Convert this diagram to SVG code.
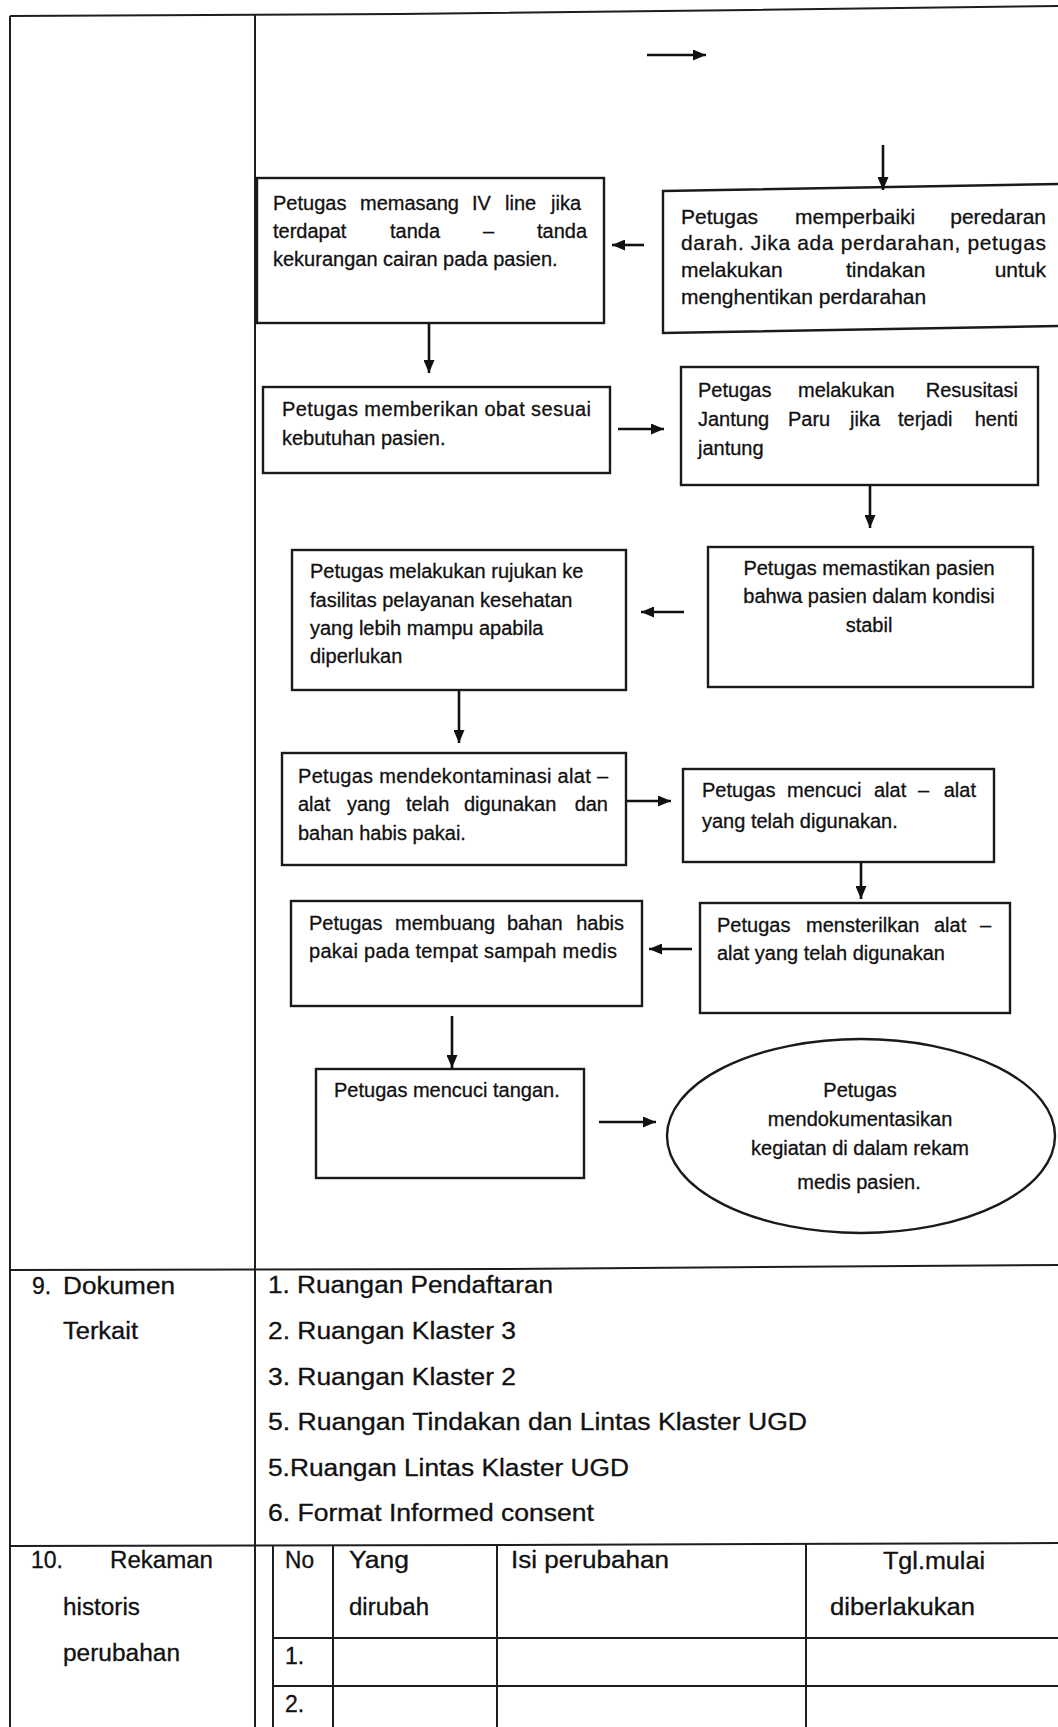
<svg xmlns="http://www.w3.org/2000/svg" width="1058" height="1727" viewBox="0 0 1058 1727">
<defs>
<marker id="ah" markerUnits="userSpaceOnUse" markerWidth="13" markerHeight="11" refX="13" refY="5.5" orient="auto">
<path d="M0,0 L13,5.5 L0,11 z" fill="#111"/>
</marker>
<style>
.frame{fill:none;stroke:#1e1e1e;stroke-width:2}
.box{fill:#fff;stroke:#1a1a1a;stroke-width:2.4}
.conn line{stroke:#111;stroke-width:2.6;marker-end:url(#ah)}
.t{font-family:"Liberation Sans",Arial,sans-serif;font-size:20px;fill:#111;stroke:#111;stroke-width:0.3}
.t21{font-size:21px}
.m{text-anchor:middle}
.e{text-anchor:end}
.tb{font-family:"Liberation Sans",Arial,sans-serif;font-size:23px;fill:#111;stroke:#111;stroke-width:0.3}
</style>
</defs>
<rect width="1058" height="1727" fill="#fff"/>

<g id="frame">
<polyline class="frame" points="10,16 400,14 750,10 1058,6"/>
<line class="frame" x1="10" y1="16" x2="10" y2="1727"/>
<line class="frame" x1="255" y1="15" x2="255" y2="1727"/>
<polyline class="frame" points="10,1270 500,1269 1058,1265"/>
<polyline class="frame" points="10,1546 500,1545 1058,1543"/>
<line class="frame" x1="273" y1="1545" x2="273" y2="1727"/>
<line class="frame" x1="333" y1="1545" x2="333" y2="1727"/>
<line class="frame" x1="497" y1="1545" x2="497" y2="1727"/>
<line class="frame" x1="806" y1="1544" x2="806" y2="1727"/>
<line class="frame" x1="273" y1="1638" x2="1058" y2="1638"/>
<line class="frame" x1="273" y1="1686" x2="1058" y2="1686"/>
</g>

<g id="n1">
<rect class="box" x="257" y="178" width="347" height="145"/>
<text class="t" y="210"><tspan x="273">Petugas</tspan><tspan x="360">memasang</tspan><tspan x="472">IV</tspan><tspan x="505">line</tspan><tspan x="551">jika</tspan></text>
<text class="t" y="238"><tspan x="273">terdapat</tspan><tspan x="390">tanda</tspan><tspan x="483">–</tspan><tspan x="537">tanda</tspan></text>
<text class="t" x="273" y="266">kekurangan cairan pada pasien.</text>
</g>

<g id="n2">
<path class="box" d="M663,191 L1062,184 L1062,326 L663,333 Z"/>
<text class="t t21" y="224"><tspan x="681">Petugas</tspan><tspan x="795">memperbaiki</tspan></text>
<text class="t t21 e" x="1046" y="224">peredaran</text>
<text class="t t21" x="681" y="250" textLength="365">darah. Jika ada perdarahan, petugas</text>
<text class="t t21" y="277"><tspan x="681">melakukan</tspan><tspan x="846">tindakan</tspan></text>
<text class="t t21 e" x="1046" y="277">untuk</text>
<text class="t t21" x="681" y="304">menghentikan perdarahan</text>
</g>

<g id="n3">
<rect class="box" x="263" y="387" width="347" height="86"/>
<text class="t" x="282" y="416" textLength="309">Petugas memberikan obat sesuai</text>
<text class="t" x="282" y="445">kebutuhan pasien.</text>
</g>

<g id="n4">
<rect class="box" x="681" y="367" width="357" height="118"/>
<text class="t" y="397"><tspan x="698">Petugas</tspan><tspan x="798">melakukan</tspan></text>
<text class="t e" x="1018" y="397">Resusitasi</text>
<text class="t" y="426"><tspan x="698">Jantung</tspan><tspan x="788">Paru</tspan><tspan x="850">jika</tspan><tspan x="898">terjadi</tspan></text>
<text class="t e" x="1018" y="426">henti</text>
<text class="t" x="698" y="455">jantung</text>
</g>

<g id="n5">
<rect class="box" x="708" y="547" width="325" height="140"/>
<text class="t m" x="869" y="575">Petugas memastikan pasien</text>
<text class="t m" x="869" y="603">bahwa pasien dalam kondisi</text>
<text class="t m" x="869" y="632">stabil</text>
</g>

<g id="n6">
<rect class="box" x="292" y="550" width="334" height="140"/>
<text class="t" x="310" y="578">Petugas melakukan rujukan ke</text>
<text class="t" x="310" y="607">fasilitas pelayanan kesehatan</text>
<text class="t" x="310" y="635">yang lebih mampu apabila</text>
<text class="t" x="310" y="663">diperlukan</text>
</g>

<g id="n7">
<rect class="box" x="282" y="753" width="344" height="112"/>
<text class="t" x="298" y="783" textLength="310">Petugas mendekontaminasi alat –</text>
<text class="t" y="811"><tspan x="298">alat</tspan><tspan x="347">yang</tspan><tspan x="406">telah</tspan><tspan x="464">digunakan</tspan></text>
<text class="t e" x="608" y="811">dan</text>
<text class="t" x="298" y="840">bahan habis pakai.</text>
</g>

<g id="n8">
<rect class="box" x="683" y="769" width="311" height="93"/>
<text class="t" y="797"><tspan x="702">Petugas</tspan><tspan x="787">mencuci</tspan><tspan x="874">alat</tspan><tspan x="918">–</tspan></text>
<text class="t e" x="976" y="797">alat</text>
<text class="t" x="702" y="828">yang telah digunakan.</text>
</g>

<g id="n9">
<rect class="box" x="700" y="903" width="310" height="110"/>
<text class="t" y="932"><tspan x="717">Petugas</tspan><tspan x="806">mensterilkan</tspan><tspan x="934">alat</tspan></text>
<text class="t e" x="991" y="932">–</text>
<text class="t" x="717" y="960">alat yang telah digunakan</text>
</g>

<g id="n10">
<rect class="box" x="291" y="901" width="351" height="105"/>
<text class="t" y="930"><tspan x="309">Petugas</tspan><tspan x="395">membuang</tspan><tspan x="507">bahan</tspan></text>
<text class="t e" x="624" y="930">habis</text>
<text class="t" x="309" y="958" textLength="308">pakai pada tempat sampah medis</text>
</g>

<g id="n11">
<rect class="box" x="316" y="1069" width="268" height="109"/>
<text class="t" x="334" y="1097">Petugas mencuci tangan.</text>
</g>

<g id="n12">
<ellipse class="box" cx="861" cy="1136" rx="194" ry="97"/>
<text class="t m" x="860" y="1097">Petugas</text>
<text class="t m" x="860" y="1126">mendokumentasikan</text>
<text class="t m" x="860" y="1155">kegiatan di dalam rekam</text>
<text class="t m" x="859" y="1189">medis pasien.</text>
</g>

<g id="connectors" class="conn">
<line x1="647" y1="55" x2="706" y2="55"/>
<line x1="883" y1="145" x2="883" y2="190"/>
<line x1="644" y1="245" x2="612" y2="245"/>
<line x1="429" y1="323" x2="429" y2="373"/>
<line x1="618" y1="429" x2="664" y2="429"/>
<line x1="870" y1="485" x2="870" y2="528"/>
<line x1="684" y1="612" x2="641" y2="612"/>
<line x1="459" y1="691" x2="459" y2="743"/>
<line x1="627" y1="801" x2="671" y2="801"/>
<line x1="861" y1="862" x2="861" y2="899"/>
<line x1="692" y1="949" x2="649" y2="949"/>
<line x1="452" y1="1016" x2="452" y2="1068"/>
<line x1="599" y1="1122" x2="656" y2="1122"/>
</g>

<g id="sec9">
<text class="tb" x="32" y="1294">9.</text>
<text class="tb" x="63" y="1294" textLength="112" lengthAdjust="spacingAndGlyphs">Dokumen</text>
<text class="tb" x="63" y="1339" textLength="75" lengthAdjust="spacingAndGlyphs">Terkait</text>
<text class="tb" x="268" y="1293" textLength="285" lengthAdjust="spacingAndGlyphs">1. Ruangan Pendaftaran</text>
<text class="tb" x="268" y="1339" textLength="248" lengthAdjust="spacingAndGlyphs">2. Ruangan Klaster 3</text>
<text class="tb" x="268" y="1385" textLength="248" lengthAdjust="spacingAndGlyphs">3. Ruangan Klaster 2</text>
<text class="tb" x="268" y="1430" textLength="539" lengthAdjust="spacingAndGlyphs">5. Ruangan Tindakan dan Lintas Klaster UGD</text>
<text class="tb" x="268" y="1476" textLength="361" lengthAdjust="spacingAndGlyphs">5.Ruangan Lintas Klaster UGD</text>
<text class="tb" x="268" y="1521" textLength="326" lengthAdjust="spacingAndGlyphs">6. Format Informed consent</text>
</g>

<g id="sec10">
<text class="tb" x="31" y="1568">10.</text>
<text class="tb" x="110" y="1568" textLength="103" lengthAdjust="spacingAndGlyphs">Rekaman</text>
<text class="tb" x="63" y="1615" textLength="77" lengthAdjust="spacingAndGlyphs">historis</text>
<text class="tb" x="63" y="1661" textLength="117" lengthAdjust="spacingAndGlyphs">perubahan</text>
<text class="tb" x="285" y="1568" textLength="29" lengthAdjust="spacingAndGlyphs">No</text>
<text class="tb" x="349" y="1568" textLength="60" lengthAdjust="spacingAndGlyphs">Yang</text>
<text class="tb" x="349" y="1615" textLength="80" lengthAdjust="spacingAndGlyphs">dirubah</text>
<text class="tb" x="511" y="1568" textLength="158" lengthAdjust="spacingAndGlyphs">Isi perubahan</text>
<text class="tb" x="883" y="1569" textLength="102" lengthAdjust="spacingAndGlyphs">Tgl.mulai</text>
<text class="tb" x="830" y="1615" textLength="145" lengthAdjust="spacingAndGlyphs">diberlakukan</text>
<text class="tb" x="285" y="1664">1.</text>
<text class="tb" x="285" y="1712">2.</text>
</g>
</svg>
